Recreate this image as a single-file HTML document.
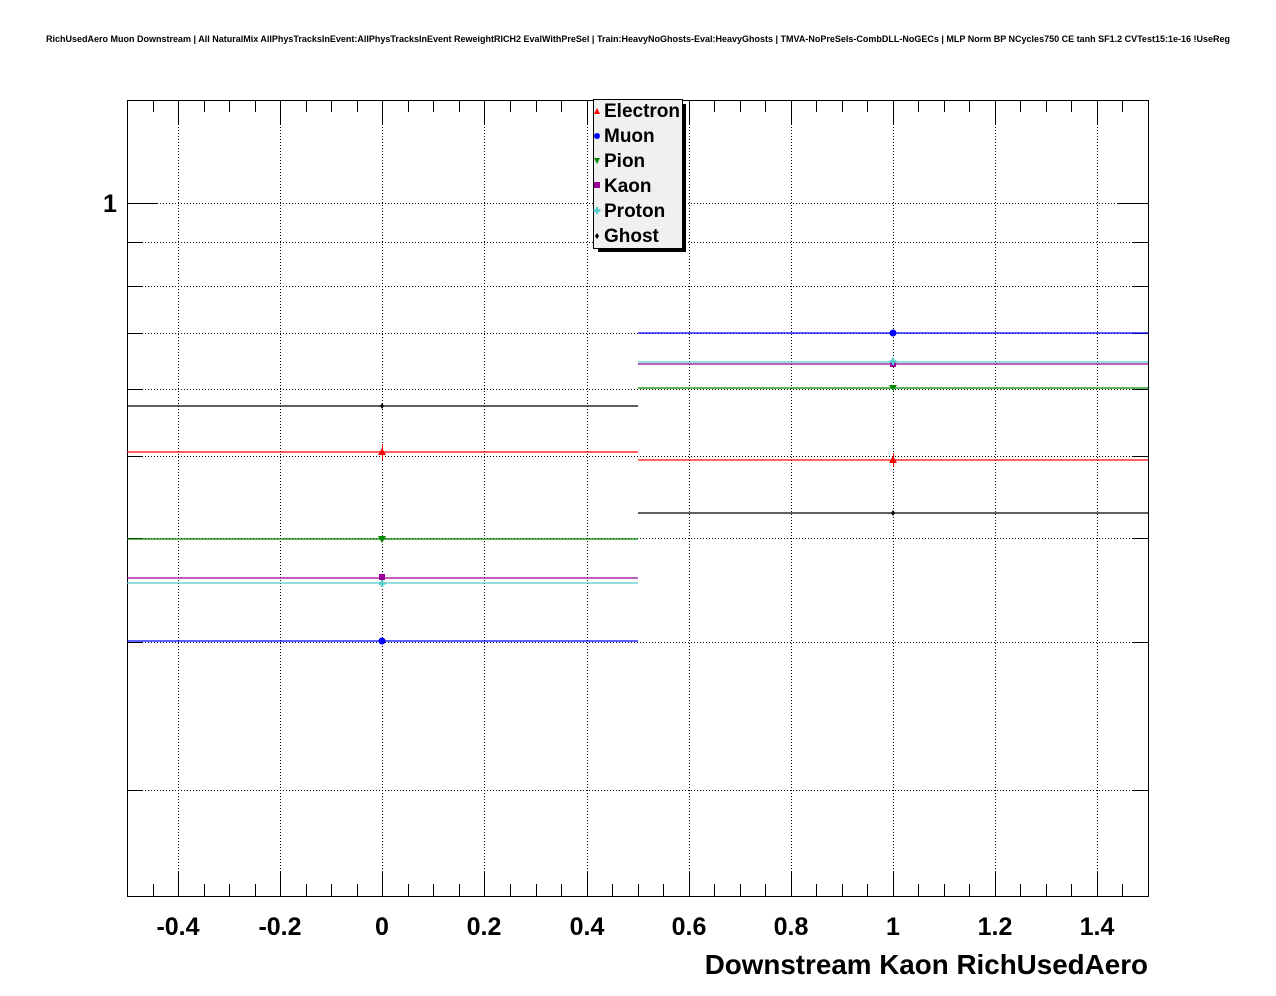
<!DOCTYPE html>
<html><head><style>body{margin:0;background:#fff}svg{display:block}</style></head><body>
<svg width="1276" height="996" xmlns="http://www.w3.org/2000/svg" font-family="Liberation Sans, sans-serif" font-weight="bold">
<rect width="1276" height="996" fill="#fff"/>
<text x="638" y="42" font-size="9" text-anchor="middle">RichUsedAero Muon Downstream | All NaturalMix AllPhysTracksInEvent:AllPhysTracksInEvent ReweightRICH2 EvalWithPreSel | Train:HeavyNoGhosts-Eval:HeavyGhosts | TMVA-NoPreSels-CombDLL-NoGECs | MLP Norm BP NCycles750 CE tanh SF1.2 CVTest15:1e-16 !UseReg</text>
<g stroke="#000" stroke-width="1" stroke-dasharray="1,2" shape-rendering="crispEdges">
<line x1="178.5" y1="100" x2="178.5" y2="896"/><line x1="280.5" y1="100" x2="280.5" y2="896"/><line x1="382.5" y1="100" x2="382.5" y2="896"/><line x1="484.5" y1="100" x2="484.5" y2="896"/><line x1="587.5" y1="100" x2="587.5" y2="896"/><line x1="689.5" y1="100" x2="689.5" y2="896"/><line x1="791.5" y1="100" x2="791.5" y2="896"/><line x1="893.5" y1="100" x2="893.5" y2="896"/><line x1="995.5" y1="100" x2="995.5" y2="896"/><line x1="1097.5" y1="100" x2="1097.5" y2="896"/>
<line x1="127" y1="203.5" x2="1148" y2="203.5"/><line x1="127" y1="242.5" x2="1148" y2="242.5"/><line x1="127" y1="286.5" x2="1148" y2="286.5"/><line x1="127" y1="333.5" x2="1148" y2="333.5"/><line x1="127" y1="389.5" x2="1148" y2="389.5"/><line x1="127" y1="456.5" x2="1148" y2="456.5"/><line x1="127" y1="538.5" x2="1148" y2="538.5"/><line x1="127" y1="642.5" x2="1148" y2="642.5"/><line x1="127" y1="790.5" x2="1148" y2="790.5"/>
</g>
<rect x="127.5" y="100.5" width="1021" height="796" fill="none" stroke="#000" shape-rendering="crispEdges"/>
<g stroke="#000" shape-rendering="crispEdges">
<path d="M178.5 896v-24M280.5 896v-24M382.5 896v-24M484.5 896v-24M587.5 896v-24M689.5 896v-24M791.5 896v-24M893.5 896v-24M995.5 896v-24M1097.5 896v-24M178.5 100v24M280.5 100v24M382.5 100v24M484.5 100v24M587.5 100v24M689.5 100v24M791.5 100v24M893.5 100v24M995.5 100v24M1097.5 100v24"/>
<path d="M153.5 896v-12M204.5 896v-12M229.5 896v-12M255.5 896v-12M306.5 896v-12M331.5 896v-12M357.5 896v-12M408.5 896v-12M433.5 896v-12M459.5 896v-12M510.5 896v-12M536.5 896v-12M561.5 896v-12M612.5 896v-12M638.5 896v-12M663.5 896v-12M714.5 896v-12M740.5 896v-12M765.5 896v-12M816.5 896v-12M842.5 896v-12M867.5 896v-12M918.5 896v-12M944.5 896v-12M969.5 896v-12M1020.5 896v-12M1046.5 896v-12M1071.5 896v-12M1122.5 896v-12"/>
<path d="M153.5 100v12M204.5 100v12M229.5 100v12M255.5 100v12M306.5 100v12M331.5 100v12M357.5 100v12M408.5 100v12M433.5 100v12M459.5 100v12M510.5 100v12M536.5 100v12M561.5 100v12M612.5 100v12M638.5 100v12M663.5 100v12M714.5 100v12M740.5 100v12M765.5 100v12M816.5 100v12M842.5 100v12M867.5 100v12M918.5 100v12M944.5 100v12M969.5 100v12M1020.5 100v12M1046.5 100v12M1071.5 100v12M1122.5 100v12"/>
<path d="M127 203.5h31M1148 203.5h-31M127 242.5h15M127 286.5h15M127 333.5h15M127 389.5h15M127 456.5h15M127 538.5h15M127 642.5h15M127 790.5h15M1148 242.5h-15M1148 286.5h-15M1148 333.5h-15M1148 389.5h-15M1148 456.5h-15M1148 538.5h-15M1148 642.5h-15M1148 790.5h-15"/>
</g>
<g font-size="25" text-anchor="middle">
<text x="178" y="935">-0.4</text><text x="280" y="935">-0.2</text><text x="382" y="935">0</text><text x="484" y="935">0.2</text><text x="587" y="935">0.4</text><text x="689" y="935">0.6</text><text x="791" y="935">0.8</text><text x="893" y="935">1</text><text x="995" y="935">1.2</text><text x="1097" y="935">1.4</text>
</g>
<text x="110" y="212" font-size="25" text-anchor="middle">1</text>
<text x="1148" y="974" font-size="27.8" text-anchor="end">Downstream Kaon RichUsedAero</text>
<g stroke-width="1.3">
<line x1="127" y1="406" x2="638" y2="406" stroke="#000"/>
<line x1="127" y1="452" x2="638" y2="452" stroke="#f00"/>
<line x1="127" y1="539" x2="638" y2="539" stroke="#080"/>
<line x1="127" y1="578" x2="638" y2="578" stroke="#909"/>
<line x1="127" y1="583" x2="638" y2="583" stroke="#5cc"/>
<line x1="127" y1="641" x2="638" y2="641" stroke="#00f"/>
<line x1="638" y1="333" x2="1148" y2="333" stroke="#00f"/>
<line x1="638" y1="362" x2="1148" y2="362" stroke="#5cc"/>
<line x1="638" y1="364" x2="1148" y2="364" stroke="#909"/>
<line x1="638" y1="388" x2="1148" y2="388" stroke="#080"/>
<line x1="638" y1="460" x2="1148" y2="460" stroke="#f00"/>
<line x1="638" y1="513" x2="1148" y2="513" stroke="#000"/>
</g>
<path d="M382.5 444v16M893.5 453v14" stroke="#f00"/>
<polygon points="382,448 378,455 386,455" fill="#f00"/><polygon points="893,456 889,463 897,463" fill="#f00"/>
<circle cx="382" cy="641" r="3.5" fill="#00f"/><circle cx="893" cy="333" r="3.5" fill="#00f"/>
<polygon points="378,536 386,536 382,543" fill="#080"/><polygon points="889,385 897,385 893,391" fill="#080"/>
<rect x="379" y="574" width="6" height="6" fill="#909"/><rect x="890" y="361" width="6" height="6" fill="#909"/>
<path d="M382 580v7M378.5 583.5h7M893 358v7M889.5 361.5h7" stroke="#5cc" stroke-width="2.5"/>
<path d="M382 403l2 3-2 3-2-3z M893 510l2 3-2 3-2-3z" fill="#000"/>
<rect x="598" y="104" width="88" height="148" fill="#000"/>
<rect x="593.5" y="99.5" width="89" height="149" fill="#f0f0f0" stroke="#000"/>
<g font-size="19">
<text x="604" y="117">Electron</text><text x="604" y="142">Muon</text><text x="604" y="167">Pion</text><text x="604" y="192">Kaon</text><text x="604" y="217">Proton</text><text x="604" y="242">Ghost</text>
</g>
<polygon points="597,108 594,114 600,114" fill="#f00"/>
<circle cx="597" cy="136" r="3" fill="#00f"/>
<polygon points="594,158 600,158 597,164" fill="#080"/>
<rect x="594" y="182" width="6" height="6" fill="#909"/>
<path d="M597 207v7M593.5 210.5h7" stroke="#5cc" stroke-width="2.5"/>
<path d="M597 233l2 3-2 3-2-3z" fill="#000"/>
</svg>
</body></html>
